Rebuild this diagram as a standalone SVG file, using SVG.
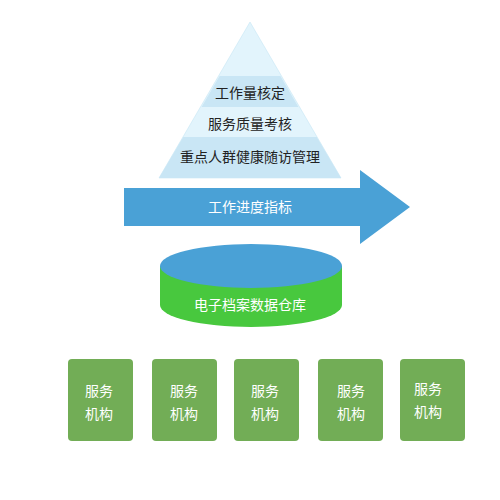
<svg xmlns="http://www.w3.org/2000/svg" width="500" height="500" viewBox="0 0 500 500">
<style>
.t{font-family:"Liberation Sans","Noto Sans CJK SC",sans-serif;font-size:14px;text-anchor:middle;dominant-baseline:central}
.dark{fill:#222}
.w{fill:#fff}
.box{fill:#72ad56}
</style>
<rect width="500" height="500" fill="#fff"/>
<g id="pyramid">
<polygon points="250,22 159,178 341,178" fill="#e2f4fc" stroke="#bfe3f3" stroke-width="0.5"/>
<polygon points="219.6,76 280.4,76 298.4,107 201.6,107" fill="#c9e6f5"/>
<polygon points="183.3,137 316.7,137 341,178 159,178" fill="#c9e6f5"/>
<text class="t dark" x="250" y="93">工作量核定</text>
<text class="t dark" x="250" y="124">服务质量考核</text>
<text class="t dark" x="250" y="157">重点人群健康随访管理</text>
</g>
<g id="arrow">
<polygon points="124,188 360,188 360,170 410,207 360,244 360,226 124,226" fill="#4aa1d6"/>
<text class="t w" x="250" y="207">工作进度指标</text>
</g>
<g id="database">
<path d="M160,266 L160,305 A91,22 0 0 0 342,305 L342,266 Z" fill="#48c83e"/>
<ellipse cx="251" cy="266" rx="91" ry="22" fill="#4aa1d6"/>
<text class="t w" x="250" y="305">电子档案数据仓库</text>
</g>
<g id="org1"><rect class="box" x="68" y="359" width="65" height="82" rx="4"/><text class="t w" x="99" y="391">服务</text><text class="t w" x="99" y="414">机构</text></g>
<g id="org2"><rect class="box" x="152" y="359" width="65" height="82" rx="4"/><text class="t w" x="184" y="391">服务</text><text class="t w" x="184" y="414">机构</text></g>
<g id="org3"><rect class="box" x="234" y="359" width="65" height="82" rx="4"/><text class="t w" x="265" y="391">服务</text><text class="t w" x="265" y="414">机构</text></g>
<g id="org4"><rect class="box" x="318" y="359" width="65" height="82" rx="4"/><text class="t w" x="351" y="391">服务</text><text class="t w" x="351" y="414">机构</text></g>
<g id="org5"><rect class="box" x="400" y="359" width="65" height="82" rx="4"/><text class="t w" x="428" y="389">服务</text><text class="t w" x="428" y="412">机构</text></g>
<g id="connectors"></g>
</svg>
